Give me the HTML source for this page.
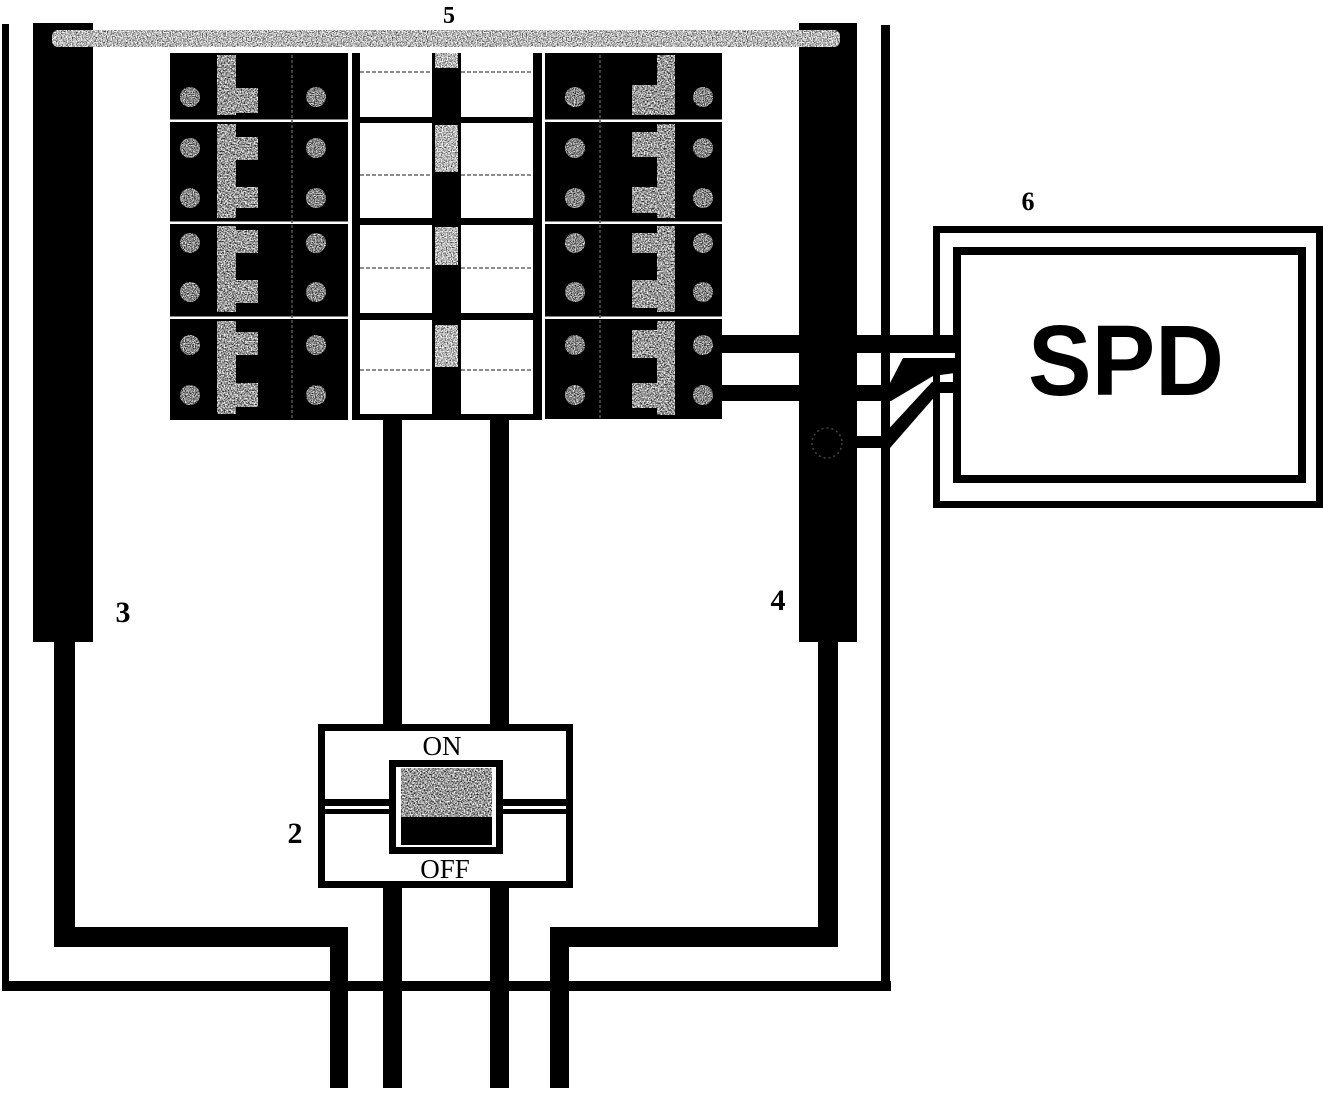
<!DOCTYPE html>
<html><head><meta charset="utf-8">
<style>
html,body{margin:0;padding:0;background:#fff;}
svg{display:block;}
</style></head><body>
<svg width="1323" height="1093" viewBox="0 0 1323 1093" xmlns="http://www.w3.org/2000/svg">
<defs>
<filter id="light" x="0" y="0" width="100%" height="100%" color-interpolation-filters="sRGB">
  <feTurbulence type="fractalNoise" baseFrequency="0.8" numOctaves="2" seed="4" result="t"/>
  <feColorMatrix in="t" type="matrix" values="2.0 0 0 0 -0.28  2.0 0 0 0 -0.28  2.0 0 0 0 -0.28  0 0 0 0 1" result="g"/>
  <feComposite in="g" in2="SourceAlpha" operator="in"/>
</filter>
<filter id="mid" x="0" y="0" width="100%" height="100%" color-interpolation-filters="sRGB">
  <feTurbulence type="fractalNoise" baseFrequency="0.7" numOctaves="2" seed="7" result="t"/>
  <feColorMatrix in="t" type="matrix" values="2.0 0 0 0 -0.4  2.0 0 0 0 -0.4  2.0 0 0 0 -0.4  0 0 0 0 1" result="g"/>
  <feComposite in="g" in2="SourceAlpha" operator="in"/>
</filter>
<filter id="dark" x="0" y="0" width="100%" height="100%" color-interpolation-filters="sRGB">
  <feTurbulence type="fractalNoise" baseFrequency="0.9" numOctaves="2" seed="11" result="t"/>
  <feColorMatrix in="t" type="matrix" values="2.0 0 0 0 -0.47  2.0 0 0 0 -0.47  2.0 0 0 0 -0.47  0 0 0 0 1" result="g"/>
  <feComposite in="g" in2="SourceAlpha" operator="in"/>
</filter>
</defs>

<!-- enclosure -->
<rect x="2" y="24" width="7" height="967" fill="#000"/>
<rect x="881" y="25" width="9" height="966" fill="#000"/>
<rect x="2" y="981" width="889" height="10" fill="#000"/>

<!-- bars 3 and 4 -->
<rect x="33" y="23" width="60" height="619" fill="#000"/>
<rect x="799" y="23" width="58" height="619" fill="#000"/>

<!-- wires from bars -->
<rect x="54" y="640" width="21" height="307" fill="#000"/>
<rect x="54" y="927" width="294" height="20" fill="#000"/>
<rect x="330" y="927" width="18" height="161" fill="#000"/>
<rect x="818" y="640" width="20" height="307" fill="#000"/>
<rect x="550" y="927" width="288" height="20" fill="#000"/>
<rect x="550" y="927" width="19" height="161" fill="#000"/>

<!-- main wires -->
<rect x="383" y="418" width="19" height="670" fill="#000"/>
<rect x="490" y="418" width="19" height="670" fill="#000"/>

<!-- main switch -->
<rect x="321.5" y="727.5" width="248" height="157" fill="#fff" stroke="#000" stroke-width="7"/>
<rect x="325" y="799" width="66" height="7" fill="#000"/>
<rect x="325" y="809" width="66" height="5" fill="#000"/>
<rect x="501" y="799" width="66" height="7" fill="#000"/>
<rect x="501" y="809" width="66" height="5" fill="#000"/>
<rect x="392.5" y="763.5" width="107" height="87" fill="#fff" stroke="#000" stroke-width="7"/>
<rect x="401" y="768" width="91" height="49" fill="#999" filter="url(#mid)"/>
<rect x="401" y="817" width="91" height="28" fill="#000"/>
<text x="442" y="755" font-family="'Liberation Serif', serif" font-size="27" text-anchor="middle" fill="#000">ON</text>
<text x="445" y="878" font-family="'Liberation Serif', serif" font-size="27" text-anchor="middle" fill="#000">OFF</text>

<!-- breaker blocks -->
<rect x="170" y="53" width="178" height="367" fill="#000"/>
<rect x="545" y="53" width="177" height="366" fill="#000"/>
<g fill="#fff">
  <rect x="170" y="119.5" width="178" height="2.5"/>
  <rect x="170" y="221.5" width="178" height="2.5"/>
  <rect x="170" y="316.5" width="178" height="2.5"/>
  <rect x="545" y="119.5" width="177" height="2.5"/>
  <rect x="545" y="221.5" width="177" height="2.5"/>
  <rect x="545" y="316.5" width="177" height="2.5"/>
</g>
<line x1="292" y1="55" x2="292" y2="418" stroke="#555" stroke-width="1.5" stroke-dasharray="3 2"/>
<line x1="600" y1="55" x2="600" y2="418" stroke="#555" stroke-width="1.5" stroke-dasharray="3 2"/>

<g fill="#999" filter="url(#mid)">
  <rect x="217" y="55" width="19" height="60"/><rect x="236" y="88" width="22" height="25"/>
  <rect x="217" y="124" width="19" height="94"/><rect x="236" y="137" width="22" height="23"/><rect x="236" y="187" width="22" height="21"/>
  <rect x="217" y="226" width="19" height="86"/><rect x="236" y="230" width="22" height="23"/><rect x="236" y="280" width="22" height="23"/>
  <rect x="217" y="321" width="19" height="93"/><rect x="236" y="332" width="22" height="23"/><rect x="236" y="383" width="22" height="24"/>
</g>
<g fill="#999" filter="url(#mid)">
  <rect x="657" y="55" width="18" height="60"/><rect x="632" y="85" width="25" height="30"/>
  <rect x="657" y="124" width="18" height="94"/><rect x="632" y="132" width="25" height="25"/><rect x="632" y="187" width="25" height="26"/>
  <rect x="657" y="226" width="18" height="86"/><rect x="632" y="233" width="25" height="20"/><rect x="632" y="280" width="25" height="28"/>
  <rect x="657" y="321" width="18" height="94"/><rect x="632" y="330" width="25" height="28"/><rect x="632" y="383" width="25" height="25"/>
</g>
<g fill="#8a8a8a" filter="url(#dark)">
  <circle cx="190" cy="97" r="10"/><circle cx="316" cy="97" r="10"/>
  <circle cx="190" cy="148" r="10"/><circle cx="316" cy="148" r="10"/>
  <circle cx="190" cy="198" r="10"/><circle cx="316" cy="198" r="10"/>
  <circle cx="190" cy="243" r="10"/><circle cx="316" cy="243" r="10"/>
  <circle cx="190" cy="292" r="10"/><circle cx="316" cy="292" r="10"/>
  <circle cx="190" cy="345" r="10"/><circle cx="316" cy="345" r="10"/>
  <circle cx="190" cy="395" r="10"/><circle cx="316" cy="395" r="10"/>
</g>
<g fill="#8a8a8a" filter="url(#dark)">
  <circle cx="575" cy="97" r="10"/><circle cx="703" cy="97" r="10"/>
  <circle cx="575" cy="148" r="10"/><circle cx="703" cy="148" r="10"/>
  <circle cx="575" cy="198" r="10"/><circle cx="703" cy="198" r="10"/>
  <circle cx="575" cy="243" r="10"/><circle cx="703" cy="243" r="10"/>
  <circle cx="575" cy="292" r="10"/><circle cx="703" cy="292" r="10"/>
  <circle cx="575" cy="345" r="10"/><circle cx="703" cy="345" r="10"/>
  <circle cx="575" cy="395" r="10"/><circle cx="703" cy="395" r="10"/>
</g>

<!-- middle section -->
<rect x="352" y="53" width="8" height="367" fill="#000"/>
<rect x="533" y="53" width="9" height="367" fill="#000"/>
<rect x="432" y="53" width="29" height="367" fill="#000"/>
<rect x="352" y="117" width="190" height="6" fill="#000"/>
<rect x="352" y="218" width="190" height="7" fill="#000"/>
<rect x="352" y="313" width="190" height="7" fill="#000"/>
<rect x="352" y="414" width="190" height="6" fill="#000"/>
<g fill="#aaa" filter="url(#light)">
  <rect x="435" y="53" width="23" height="15"/>
  <rect x="435" y="125" width="23" height="47"/>
  <rect x="435" y="227" width="23" height="38"/>
  <rect x="435" y="325" width="23" height="42"/>
</g>
<g stroke="#666" stroke-width="1.5" stroke-dasharray="4 2">
  <line x1="360" y1="72" x2="432" y2="72"/><line x1="461" y1="72" x2="533" y2="72"/>
  <line x1="360" y1="175" x2="432" y2="175"/><line x1="461" y1="175" x2="533" y2="175"/>
  <line x1="360" y1="268" x2="432" y2="268"/><line x1="461" y1="268" x2="533" y2="268"/>
  <line x1="360" y1="370" x2="432" y2="370"/><line x1="461" y1="370" x2="533" y2="370"/>
</g>

<!-- bus bar 5 -->
<rect x="52" y="30" width="788" height="17" rx="6" fill="#b5b5b5" filter="url(#light)"/>

<!-- SPD -->
<rect x="936.5" y="229.5" width="383" height="275" fill="#fff" stroke="#000" stroke-width="7"/>
<rect x="957" y="251" width="345" height="228" fill="#fff" stroke="#000" stroke-width="8"/>
<text x="1028" y="395" font-family="'Liberation Sans', Arial, sans-serif" font-weight="bold" font-size="100" textLength="196" lengthAdjust="spacingAndGlyphs" fill="#000">SPD</text>

<!-- wires to SPD -->
<rect x="722" y="335" width="233" height="18" fill="#000"/>
<rect x="900" y="353" width="55" height="5" fill="#fff"/>
<polygon points="722,385 889,385 903,358 955,358 955,373 933,376 891,401 722,401" fill="#000"/>
<polygon points="857,436 882,436 932,382 955,382 955,393 938,393 890,448 857,448" fill="#000"/>
<circle cx="827" cy="443" r="15" fill="none" stroke="#444" stroke-width="1.5" stroke-dasharray="2 3"/>

<!-- labels -->
<g font-family="'Liberation Serif', serif" font-weight="bold" fill="#000" text-anchor="middle">
  <text x="449" y="23" font-size="24">5</text>
  <text x="1028" y="210" font-size="26">6</text>
  <text x="123" y="622" font-size="30">3</text>
  <text x="778" y="610" font-size="30">4</text>
  <text x="295" y="843" font-size="30">2</text>
</g>
</svg>
</body></html>
